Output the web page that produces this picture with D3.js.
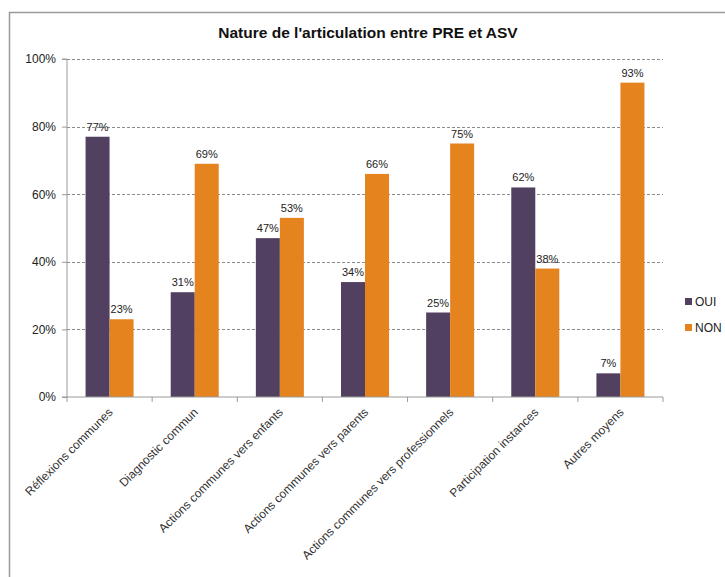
<!DOCTYPE html>
<html>
<head>
<meta charset="utf-8">
<script src="https://cdn.jsdelivr.net/npm/d3@7"></script>
<style>
  body { margin: 0; background: #fff; }
  svg { font-family: "Liberation Sans", Arial, sans-serif; }
</style>
</head>
<body>
<div id="chart"></div>
<script>
const WIDTH = 725;
const HEIGHT = 577;
const MARGINS = {left: 67, right: 62, top: 59, bottom: 180};

const categories = ["Réflexions communes", "Diagnostic commun", "Actions communes vers enfants",
  "Actions communes vers parents", "Actions communes vers professionnels",
  "Participation instances", "Autres moyens"];
const series = ["OUI", "NON"];
const oui = [77, 31, 47, 34, 25, 62, 7];
const non = [23, 69, 53, 66, 75, 38, 93];
const yTicks = [0, 20, 40, 60, 80, 100];
const colors = ["#51405f", "#e5841f"];

const values = [oui, non];

const svg = d3.select("#chart").append("svg")
  .attr("width", WIDTH)
  .attr("height", HEIGHT);

// outer frame (top and left edges only visible)
svg.append("path")
  .attr("d", "M9.5,577 V12.5 H725")
  .attr("fill", "none")
  .attr("stroke", "#9a9a9a")
  .attr("stroke-width", 1.5);

svg.append("text")
  .attr("x", 368)
  .attr("y", 38)
  .attr("text-anchor", "middle")
  .attr("font-weight", "bold")
  .attr("font-size", "15.5px")
  .attr("fill", "#111")
  .text("Nature de l'articulation entre PRE et ASV");

const x0 = d3.scaleBand()
  .domain(categories)
  .range([MARGINS.left, WIDTH - MARGINS.right])
  .padding(0);

const x1 = d3.scaleBand()
  .domain(series)
  .range([x0.bandwidth() * 0.218, x0.bandwidth() * 0.782])
  .padding(0);

const y = d3.scaleLinear()
  .domain([0, 100])
  .range([HEIGHT - MARGINS.bottom, MARGINS.top]);

// gridlines
svg.append("g")
  .selectAll("line")
  .data(yTicks.filter(d => d > 0))
  .enter()
  .append("line")
    .attr("x1", MARGINS.left)
    .attr("x2", WIDTH - MARGINS.right)
    .attr("y1", d => Math.round(y(d)) + 0.5)
    .attr("y2", d => Math.round(y(d)) + 0.5)
    .attr("stroke", "#8c8c8c")
    .attr("stroke-dasharray", "3,2");

// bars
const groups = svg.append("g")
  .selectAll("g")
  .data(categories)
  .enter()
  .append("g")
    .attr("transform", d => "translate(" + x0(d) + ",0)");

groups.selectAll("rect")
  .data((d, i) => series.map((s, j) => ({s: s, v: values[j][i]})))
  .enter()
  .append("rect")
    .attr("x", d => x1(d.s))
    .attr("y", d => y(d.v))
    .attr("width", x1.bandwidth())
    .attr("height", d => y(0) - y(d.v))
    .attr("fill", (d, j) => colors[j]);

groups.selectAll("text")
  .data((d, i) => series.map((s, j) => ({s: s, v: values[j][i]})))
  .enter()
  .append("text")
    .attr("x", d => x1(d.s) + x1.bandwidth() / 2)
    .attr("y", d => y(d.v) - 6)
    .attr("text-anchor", "middle")
    .attr("font-size", "11px")
    .attr("fill", "#222")
    .text(d => d.v + "%");

// y axis
const yAxis = svg.append("g")
  .attr("transform", "translate(" + MARGINS.left + ",0)")
  .call(d3.axisLeft(y).tickValues(yTicks).tickFormat(d => d + "%").tickSize(5).tickPadding(6));
yAxis.select(".domain").attr("stroke", "#9a9a9a").attr("d", "M-5," + y(100) + "H0V" + y(0) + "H-5");
yAxis.selectAll(".tick line").attr("stroke", "#9a9a9a");
yAxis.selectAll("text").attr("font-size", "12px").attr("fill", "#222")
  .attr("font-family", "Liberation Sans, Arial, sans-serif");

// x axis
const xAxis = svg.append("g")
  .attr("transform", "translate(0," + y(0) + ")")
  .call(d3.axisBottom(x0).tickSize(0).tickPadding(0));
xAxis.select(".domain").attr("stroke", "#9a9a9a").attr("d", "M" + MARGINS.left + ",0H" + (WIDTH - MARGINS.right));
xAxis.selectAll(".tick text")
  .attr("font-size", "12px")
  .attr("fill", "#333")
  .attr("font-family", "Liberation Sans, Arial, sans-serif")
  .attr("text-anchor", "end")
  .attr("dy", 0)
  .attr("transform", "translate(4,16) rotate(-45)");

// separator ticks between categories
svg.append("g")
  .selectAll("line")
  .data(categories.concat(["end"]))
  .enter()
  .append("line")
    .attr("x1", (d, i) => i < categories.length ? x0(d) : WIDTH - MARGINS.right)
    .attr("x2", (d, i) => i < categories.length ? x0(d) : WIDTH - MARGINS.right)
    .attr("y1", y(0))
    .attr("y2", y(0) + 5)
    .attr("stroke", "#9a9a9a");

// legend
const legend = svg.append("g")
  .attr("transform", "translate(685,298)");
legend.selectAll("rect")
  .data(series)
  .enter()
  .append("rect")
    .attr("x", 0)
    .attr("y", (d, i) => i * 26)
    .attr("width", 7)
    .attr("height", 7)
    .attr("fill", (d, i) => colors[i]);
legend.selectAll("text")
  .data(series)
  .enter()
  .append("text")
    .attr("x", 10)
    .attr("y", (d, i) => i * 26 + 8)
    .attr("font-size", "12px")
    .attr("fill", "#222")
    .text(d => d);
</script>
</body>
</html>
